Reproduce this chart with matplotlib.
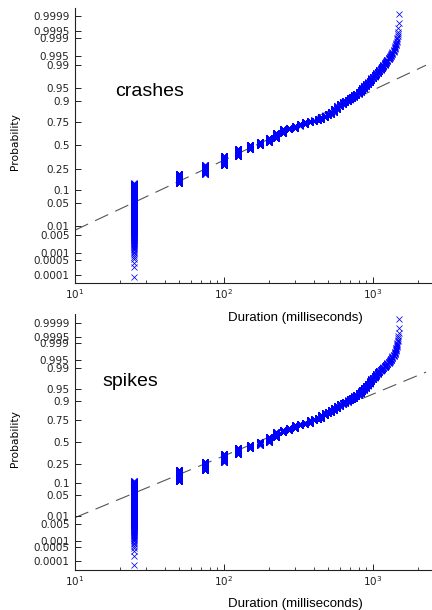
import numpy as np
import matplotlib
matplotlib.use('Agg')
import matplotlib.pyplot as plt
from matplotlib.ticker import NullFormatter, LogLocator
from statistics import NormalDist

# durations (ms) that occur in the logs, and how many events had each one
durations = [25, 50, 75, 100, 125, 150, 175, 200, 225, 250,
             275, 300, 325, 350, 375, 400, 425, 450, 475, 500,
             525, 550, 575, 600, 625, 650, 675, 700, 725, 750,
             775, 800, 825, 850, 875, 900, 925, 950, 975, 1000,
             1025, 1050, 1075, 1100, 1125, 1150, 1175, 1200, 1225, 1250,
             1275, 1300, 1325, 1350, 1375, 1400, 1425, 1450, 1475, 1500]

crash_counts = [932, 490, 503, 660, 537, 333, 238, 279, 401, 252,
                82, 170, 110, 130, 34, 48, 72, 116, 95, 95,
                102, 136, 102, 102, 54, 48, 48, 48, 41, 41,
                41, 48, 34, 41, 41, 34, 27, 27, 27, 20,
                20, 14, 14, 14, 10, 10, 10, 10, 7, 7,
                6, 5, 5, 5, 5, 5, 4, 4, 4, 2]

spike_counts = [850, 632, 624, 655, 530, 359, 289, 413, 468, 234,
                172, 234, 109, 94, 210, 60, 120, 187, 117, 101,
                117, 109, 117, 101, 47, 47, 47, 55, 47, 55,
                55, 55, 47, 47, 47, 47, 39, 39, 31, 23,
                23, 20, 16, 12, 8, 8, 8, 9, 8, 7,
                6, 5, 7, 6, 5, 6, 6, 5, 4, 3]

prob_ticks = [0.0001, 0.0005, 0.001, 0.005, 0.01, 0.05, 0.1, 0.25, 0.5,
              0.75, 0.9, 0.95, 0.99, 0.995, 0.999, 0.9995, 0.9999]
prob_labels = ['0.0001', '0.0005', '0.001', '0.005', '0.01', '0.05', '0.1',
               '0.25', '0.5', '0.75', '0.9', '0.95', '0.99', '0.995',
               '0.999', '0.9995', '0.9999']

line_range = [10, 2270]

nd = NormalDist()


def probit(p):
    return np.array([nd.inv_cdf(float(v)) for v in np.atleast_1d(p)])


def probplot(ax, counts, label, label_pos, zlim):
    x = np.sort(np.repeat(durations, counts))
    n = len(x)
    pp = (np.arange(1, n + 1) - 0.5) / n
    z = probit(pp)

    # reference line through the first and third quartiles (log scale)
    q1, q3 = np.percentile(x, [25, 75])
    zq = probit([0.25, 0.75])
    slope = (zq[1] - zq[0]) / (np.log(q3) - np.log(q1))
    lx = np.array(line_range, dtype=float)
    ax.plot(lx, zq[0] + slope * (np.log(lx) - np.log(q1)), color='#555555',
            lw=0.8, dashes=[13, 7], zorder=1)

    ax.plot(x, z, 'x', color='#0000ff', ms=3.8, mew=0.55, zorder=2)

    ax.set_xscale('log')
    ax.set_xlim(10, 2500)
    ax.set_ylim(-zlim, zlim)
    ax.xaxis.set_minor_locator(LogLocator(base=10, subs=np.arange(2, 10)))
    ax.xaxis.set_minor_formatter(NullFormatter())
    ax.set_yticks(probit(prob_ticks))
    ax.set_yticklabels(prob_labels)
    ax.patch.set_visible(False)

    for s in ['top', 'right']:
        ax.spines[s].set_visible(False)
    for s in ['left', 'bottom']:
        ax.spines[s].set_linewidth(0.8)
        ax.spines[s].set_color('#222222')

    ax.tick_params(axis='both', which='major', direction='in', length=4,
                   width=0.7, labelsize=7.5, colors='#222222', pad=3)
    ax.tick_params(axis='x', which='minor', direction='in', length=2, width=0.6,
                   colors='#222222')
    ax.tick_params(axis='y', which='major', pad=4)

    ax.set_xlabel('Duration (milliseconds)', fontsize=9.5, family='Liberation Sans')
    ax.set_ylabel('Probability', fontsize=7.7, family='DejaVu Sans')
    ax.text(label_pos[0], label_pos[1], label, transform=ax.transAxes,
            fontsize=14, family='Liberation Sans', va='center', ha='left')


fig = plt.figure(figsize=(4.32, 6.10), dpi=100)

ax1 = fig.add_axes([0.1736, 0.5361, 0.8270, 0.4508])
probplot(ax1, crash_counts, 'crashes', (0.112, 0.696), 3.96)
ax1.xaxis.set_label_coords(0.616, -0.104)
ax1.yaxis.set_label_coords(-0.155, 0.514)

ax2 = fig.add_axes([0.1736, 0.0656, 0.8270, 0.4197])
probplot(ax2, spike_counts, 'spikes', (0.078, 0.7355), 4.0)
ax2.xaxis.set_label_coords(0.616, -0.108)
ax2.yaxis.set_label_coords(-0.155, 0.514)

fig.savefig('out.png', dpi=100)
